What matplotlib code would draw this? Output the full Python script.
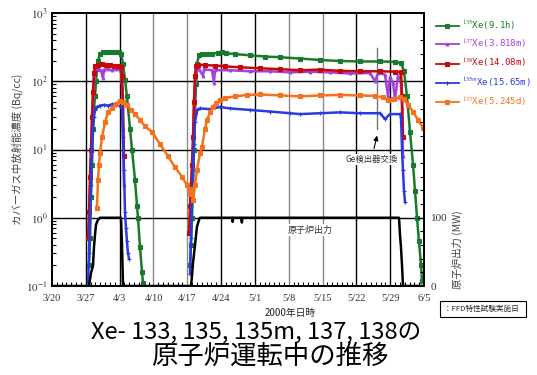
import matplotlib
matplotlib.use('Agg')
import matplotlib.pyplot as plt
from matplotlib.ticker import FixedLocator, MultipleLocator, NullFormatter, LogLocator

plt.rcParams['font.family'] = ['Noto Sans CJK JP', 'DejaVu Sans']
plt.rcParams['mathtext.fontset'] = 'stix'

nan = float('nan')  # gap between the two reactor runs

# days counted from 3/20 (2000)
tick_labels = ['3/20', '3/27', '4/3', '4/10', '4/17', '4/24', '5/1', '5/8',
               '5/15', '5/22', '5/29', '6/5']
grid_dark = [7, 14, 35, 42, 63, 70]
grid_gray = [21, 28, 49, 56]

# 135Xe (9.1h)
xe135_d = [7.66, 7.87, 8.07, 8.28, 8.49, 8.69, 8.9, 9.11, 9.31, 9.52, 9.94, 10.56, 11.38,
           12.21, 13.04, 13.87, 14.28, 14.7, 15.11, 15.52, 16.15, 16.56, 17.18, 17.59,
           17.8, 18.22, 18.63, 18.84, nan,
           28.57, 28.77, 28.98, 29.19, 29.39, 29.6, 29.81, 30.01, 30.43, 31.05, 32.08,
           33.12, 34.36, 35.19, 36.02, 37.88, 40.99, 44.09, 47.2, 51.34, 55.47, 59.61,
           63.76, 67.9, 71.0, 72.24, 72.86, 73.48, 74.11, 74.73, 75.14, 75.55, 75.97,
           76.38, 76.59]
xe135_v = [0.2, 0.5, 2, 6, 20, 40, 60, 100, 150, 200, 250, 268, 272,
           270, 268, 265, 255, 180, 105, 60, 20, 10, 3.6, 1.5,
           1.0, 0.37, 0.16, 0.11, nan,
           0.2, 0.4, 1.0, 3, 10, 35, 90, 180, 240, 255, 250,
           255, 260, 272, 258, 250, 240, 230, 225, 215, 205, 198,
           195, 195, 192, 185, 140, 60, 18, 6, 2.5, 1.0, 0.45,
           0.2, 0.12]

# 137Xe (3.818m)
xe137_d = [7.66, 7.87, 8.07, 8.28, 8.49, 8.69, 8.9, 9.52, 10.14, 10.56, 10.76, 11.59,
           12.42, 13.25, 14.08, 14.28, 14.49, 14.7, 14.9, nan,
           28.57, 28.77, 28.98, 29.19, 29.39, 29.6, 29.81, 30.43, 31.26, 31.46, 33.12,
           33.53, 33.74, 36.84, 40.99, 45.13, 49.27, 53.4, 57.55, 61.68, 65.83, 66.86,
           67.48, 68.93, 69.55, 69.97, 70.59, 71.0, 71.62, 72.03, 72.24, 72.45, 72.65]
xe137_v = [1.0, 3, 8, 25, 60, 110, 140, 150, 145, 110, 148, 150,
           145, 150, 148, 140, 80, 20, 3, nan,
           1.0, 2.5, 5, 12, 40, 100, 145, 150, 120, 150, 145,
           95, 145, 145, 140, 140, 135, 138, 135, 130, 132, 100,
           132, 125, 60, 115, 95, 55, 120, 110, 90, 40, 8]

# 138Xe (14.08m)
xe138_d = [7.45, 7.66, 7.87, 8.07, 8.28, 8.49, 8.69, 8.9, 9.52, 10.35, 11.18, 12.01,
           12.83, 13.66, 14.28, 14.49, 14.7, 14.9, nan,
           28.36, 28.57, 28.77, 28.98, 29.19, 29.39, 29.6, 29.81, 30.22, 31.67, 33.74,
           35.81, 38.92, 43.06, 47.2, 51.34, 55.47, 59.61, 63.76, 67.9, 71.0, 72.24,
           72.45, 72.65]
xe138_v = [0.5, 1.2, 4, 10, 30, 70, 130, 165, 175, 180, 172, 175,
           168, 165, 160, 120, 50, 8, nan,
           0.6, 1.5, 3, 6, 15, 50, 120, 165, 175, 172, 170,
           165, 160, 155, 150, 145, 148, 142, 140, 140, 138, 135,
           60, 15]

# 135mXe (15.65m)
xe135m_d = [7.45, 7.66, 7.87, 8.07, 8.28, 8.49, 8.69, 8.9, 9.31, 9.94, 10.76, 11.59,
            12.42, 13.25, 14.08, 14.49, 14.7, 14.9, 15.11, 15.32, 15.52, 15.73, 15.94, nan,
            28.57, 28.77, 28.98, 29.19, 29.39, 29.6, 30.01, 30.64, 32.71, 34.78, 36.84,
            40.99, 45.13, 49.27, 51.34, 55.47, 59.61, 63.76, 67.9, 68.93, 69.97, 72.03,
            72.24, 72.45, 72.65, 72.86, 73.07]
xe135m_v = [0.1, 0.3, 1, 3, 10, 20, 30, 38, 42, 44, 45, 44,
            46, 45, 43, 40, 15, 5, 1.2, 0.7, 0.45, 0.3, 0.25, nan,
            0.15, 0.5, 2, 5, 12, 25, 38, 40, 39, 42, 40,
            38, 36, 34, 33, 34, 35, 34, 34, 28, 33, 33,
            30, 10, 5, 2.5, 1.7]

# 133Xe (5.245d)
xe133_d = [9.31, 9.52, 9.73, 9.94, 10.35, 10.97, 11.59, 12.42, 13.25, 14.08, 14.7,
           15.52, 16.35, 17.18, 18.22, 19.25, 20.7, 22.36, 24.01, 25.46, 26.91, 27.94,
           28.57, 28.98, 29.19, 29.6, 30.01, 30.64, 31.05, 31.67, 32.08, 32.71, 33.33,
           33.95, 34.78, 35.81, 37.88, 40.36, 43.06, 47.2, 51.34, 55.47, 59.61, 63.76,
           66.86, 68.52, 69.55, 70.59, 72.03, 72.86, 73.69, 74.73, 75.76, 76.8]
xe133_v = [1.4, 3.6, 6, 9, 15, 25, 35, 41, 47, 52, 50,
           45, 38, 33, 27, 22, 18, 12, 8, 5.5, 4, 3,
           2.2, 2.6, 1.8, 3, 5, 9, 11, 20, 27, 35, 42,
           48, 53, 57, 60, 63, 64, 62, 60, 62, 63, 62,
           61, 58, 53, 55, 58, 55, 45, 36, 27, 21]

# reactor power (MW)
pow_d = [0, 7.66, 7.87, 8.07, 8.49, 8.69, 8.9, 9.11, 9.52, 9.94, 14.28, 14.49, 14.7,
         28.77, 28.98, 29.19, 29.6, 30.01, 30.43, 30.64, 37.3, 37.4, 37.5, 39.2, 39.3,
         39.4, 71.83, 72.03, 72.24, 72.45, 72.65, 77]
pow_v = [0, 0, 10, 19, 30, 57, 75, 90, 97, 100, 100, 60, 0,
         0, 15, 34, 60, 87, 97, 100, 100, 94, 100, 100, 93,
         100, 100, 75, 56, 30, 0, 0]

ge_day = 67.3

fig = plt.figure(figsize=(5.37, 3.75), dpi=100)
ax = fig.add_axes([52/537, 1-286/375, 372/537, 273/375])

for d in grid_dark:
    ax.axvline(d, color='black', lw=1.0, zorder=1)
for d in grid_gray:
    ax.axvline(d, color='#8a8a8a', lw=1.0, zorder=1)
for v in [1, 10, 100]:
    ax.axhline(v, color='black', lw=1.0, zorder=1)

series = [
    (xe135_d, xe135_v, '#187a2c', 's', 2.2, r'$^{135}$Xe(9.1h)'),
    (xe137_d, xe137_v, '#a540dc', '^', 2.0, r'$^{137}$Xe(3.818m)'),
    (xe138_d, xe138_v, '#c80808', 's', 2.8, r'$^{138}$Xe(14.08m)'),
    (xe135m_d, xe135m_v, '#2a3ae0', '+', 3.0, r'$^{135m}$Xe(15.65m)'),
    (xe133_d, xe133_v, '#f5711c', 's', 2.4, r'$^{133}$Xe(5.245d)'),
]
handles = []
for d, v, c, m, ms, lab in series:
    ln, = ax.plot(d, v, color=c, marker=m, ms=ms, lw=1.8, mew=0.8, label=lab, zorder=3)
    handles.append(ln)

ax.set_yscale('log')
ax.set_ylim(0.1, 1000)
ax.set_xlim(0, 77)
ax.xaxis.set_major_locator(FixedLocator(range(0, 78, 7)))
ax.set_xticklabels(tick_labels, family='Liberation Serif', fontsize=7.5, color='#333333')
ax.xaxis.set_minor_locator(MultipleLocator(1))
ax.yaxis.set_major_locator(FixedLocator([0.1, 1, 10, 100, 1000]))
ax.set_yticklabels([r'$10^{-1}$', r'$10^{0}$', r'$10^{1}$', r'$10^{2}$', r'$10^{3}$'],
                   fontsize=8, color='#333333')
ax.yaxis.set_minor_locator(LogLocator(base=10, subs=range(2, 10)))
ax.yaxis.set_minor_formatter(NullFormatter())
ax.tick_params(axis='x', which='both', direction='in', top=False, pad=6)
ax.tick_params(axis='x', which='major', length=0)
ax.tick_params(axis='x', which='minor', length=3, width=0.8)
ax.tick_params(axis='y', which='both', direction='in', right=False, width=0.8)
ax.tick_params(axis='y', which='major', length=5, pad=3)
ax.tick_params(axis='y', which='minor', length=3)
for s in ax.spines.values():
    s.set_linewidth(1.3)
ax.set_ylabel('カバーガス中放射能濃度 (Bq/cc)', fontsize=7.5, color='#444444', labelpad=2)

ax2 = ax.twinx()
ax2.plot(pow_d, pow_v, color='black', lw=1.8, zorder=4)
ax2.set_ylim(0, 400)
ax2.yaxis.set_major_locator(FixedLocator([0, 100]))
ax2.set_yticklabels(['0', '100'], family='Liberation Serif', fontsize=8, color='#333333')
ax2.yaxis.set_minor_locator(MultipleLocator(20))
ax2.tick_params(axis='y', which='both', direction='in', width=0.8)
ax2.tick_params(axis='y', which='major', length=5, pad=5)
ax2.tick_params(axis='y', which='minor', length=3)
for s in ax2.spines.values():
    s.set_linewidth(1.3)

ax.plot([ge_day, ge_day], [310, 20], color='#777777', lw=1.0, zorder=2)
ax.annotate('Ge検出器交換', xy=(ge_day, 16), xytext=(ge_day - 1.2, 7.2),
            ha='center', va='center', fontsize=6, color='#333333',
            bbox=dict(boxstyle='square,pad=0.1', fc='white', ec='none'),
            arrowprops=dict(arrowstyle='-|>', color='black', lw=0.8, mutation_scale=7,
                            shrinkA=4, shrinkB=0), zorder=5)
ax2.text(53.4, 82, '原子炉出力', ha='center', va='center', fontsize=6.5, color='#333333',
         bbox=dict(boxstyle='square,pad=0.15', fc='white', ec='none'), zorder=6)

leg = fig.legend(handles=handles, loc='upper left', bbox_to_anchor=(432/537, 1-15/375),
                 frameon=False, prop={'family': 'DejaVu Sans Mono', 'size': 6.5},
                 labelcolor='linecolor', handlelength=2.6, labelspacing=0.68,
                 handletextpad=0.3, borderaxespad=0)
for ln in leg.get_lines():
    ln.set_linewidth(1.3)

fig.text(457/537, 1-250/375, '原子炉出力 (MW)', rotation=90, ha='center', va='center',
         fontsize=7.5, color='#444444')
fig.text(290/537, 1-313/375, '2000年日時', ha='center', va='center', fontsize=7,
         color='#222222')
fig.text(444/537, 1-309/375, '：FFD特性試験実施日  ', ha='left', va='center', fontsize=5.5,
         color='#222222',
         bbox=dict(boxstyle='square,pad=0.55', fc='white', ec='black', lw=0.8))
fig.text(256/537, 1-332/375, 'Xe- 133, 135, 135m, 137, 138の', ha='center', va='center',
         fontsize=17, color='black')
fig.text(270/537, 1-356/375, '原子炉運転中の推移', ha='center', va='center',
         fontsize=19, color='black')

fig.savefig('out.png', dpi=100)
